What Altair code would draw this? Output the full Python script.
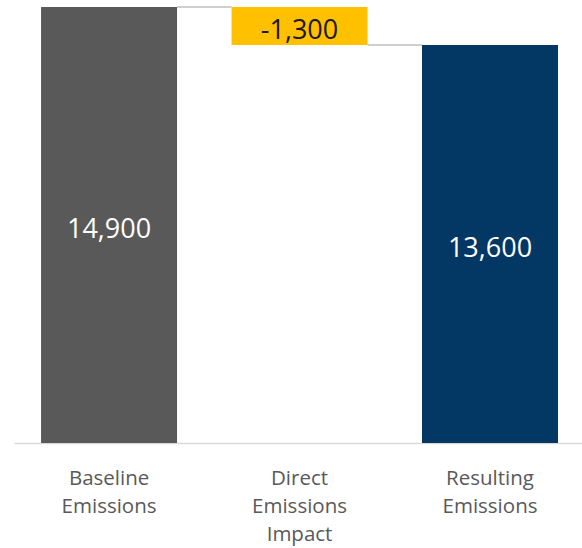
import altair as alt
import pandas as pd

categories = ["Baseline Emissions", "Direct Emissions Impact", "Resulting Emissions"]
starts = [0, 14900, 0]
ends = [14900, 13600, 13600]
labels = ["14,900", "-1,300", "13,600"]
bar_colors = ["#595959", "#FFC000", "#033764"]
text_colors = ["#FFFFFF", "#1A1A1A", "#FFFFFF"]

conn_from_index = [0, 1]
conn_value = [14900, 13600]

PAD_INNER = 0.286
PAD_OUTER = 0.134
ALIGN = 0.53

df = pd.DataFrame({
    "cat": categories, "start": starts, "end": ends, "label": labels,
    "color": bar_colors, "tcolor": text_colors,
})
df["mid"] = (df["start"] + df["end"]) / 2

# connectors expressed in band-step units (same layout as the band scale)
left_off = ALIGN * 2 * PAD_OUTER
conn = pd.DataFrame({"i": conn_from_index, "value": conn_value})
conn["x1"] = left_off + conn["i"] + (1 - PAD_INNER)
conn["x2"] = left_off + conn["i"] + 1
total_steps = len(categories) - PAD_INNER + 2 * PAD_OUTER

xscale = alt.Scale(domain=categories, paddingInner=PAD_INNER, paddingOuter=PAD_OUTER, align=ALIGN)
yscale = alt.Scale(domain=[0, 14900], nice=False, zero=True)

xaxis = alt.Axis(
    title=None, labelAngle=0, ticks=False, domainColor="#D9D9D9", domainWidth=1.5,
    labelFont="Open Sans", labelFontSize=20.5, labelColor="#595959",
    labelPadding=25, labelLineHeight=28, labelBaseline="top",
    labelExpr="split(datum.label, ' ')",
)

base = alt.Chart(df)
bars = base.mark_bar().encode(
    x=alt.X("cat:N", scale=xscale, axis=xaxis),
    y=alt.Y("end:Q", scale=yscale, axis=None),
    y2="start:Q",
    color=alt.Color("color:N", scale=None),
)
texts = base.mark_text(font="Open Sans", fontSize=27, baseline="middle", dy=4.5).encode(
    x=alt.X("cat:N", scale=xscale),
    y=alt.Y("mid:Q", scale=yscale),
    text="label:N",
    color=alt.Color("tcolor:N", scale=None),
)
bar_layer = alt.layer(bars, texts)

rules = alt.Chart(conn).mark_rule(color="#BFBFBF", strokeWidth=1.5).encode(
    x=alt.X("x1:Q", scale=alt.Scale(domain=[0, total_steps], nice=False, zero=False), axis=None),
    x2="x2:Q",
    y=alt.Y("value:Q", scale=yscale, axis=None),
)

chart = alt.layer(rules, bar_layer).resolve_scale(x="independent").properties(
    width=568, height=436,
    padding={"left": 14, "top": 7, "right": 0, "bottom": 104},
    autosize=alt.AutoSizeParams(type="none"),
).configure_view(stroke=None)

chart.save("out.html", embed_options={"renderer": "svg", "actions": False})
